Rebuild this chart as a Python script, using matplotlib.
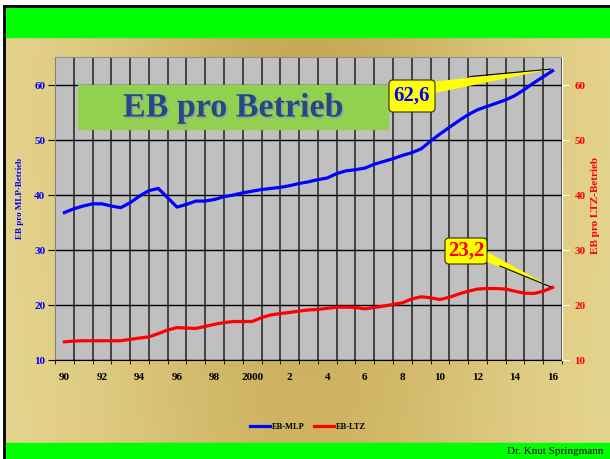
import numpy as np
import matplotlib
matplotlib.use('Agg')
import matplotlib.pyplot as plt
import matplotlib.patheffects as pe
from matplotlib.patches import Rectangle, Polygon, FancyBboxPatch

plt.rcParams['font.family'] = 'Liberation Serif'
plt.rcParams['font.weight'] = 'bold'

jahre = np.arange(1990.0, 2016.01, 0.5)
eb_mlp = [36.8, 37.5, 38.0, 38.4, 38.4, 38.0, 37.7, 38.6, 39.8, 40.8,
          41.2, 39.5, 37.8, 38.3, 38.9, 38.9, 39.2, 39.7, 40.0, 40.4,
          40.7, 41.0, 41.2, 41.4, 41.7, 42.1, 42.4, 42.8, 43.1, 43.9,
          44.4, 44.6, 44.9, 45.6, 46.1, 46.6, 47.2, 47.7, 48.4, 49.8,
          51.1, 52.3, 53.5, 54.6, 55.5, 56.1, 56.7, 57.3, 58.1, 59.2,
          60.4, 61.5, 62.6]
eb_ltz = [13.3, 13.45, 13.5, 13.5, 13.5, 13.5, 13.5, 13.75, 14.0, 14.2,
          14.8, 15.45, 15.9, 15.8, 15.75, 16.1, 16.5, 16.8, 17.0, 17.0,
          17.0, 17.7, 18.2, 18.45, 18.65, 18.9, 19.1, 19.2, 19.4, 19.6,
          19.6, 19.55, 19.3, 19.55, 19.8, 20.1, 20.4, 21.1, 21.5, 21.3,
          21.0, 21.4, 22.0, 22.5, 22.9, 23.0, 23.0, 22.9, 22.5, 22.15,
          22.1, 22.5, 23.2]
tick_jahre = np.arange(1990, 2017, 2)
tick_labels = ['90', '92', '94', '96', '98', '2000', '2', '4', '6', '8',
               '10', '12', '14', '16']
y_ticks = [10, 20, 30, 40, 50, 60]

W, H = 610, 459
def fx(px):
    return px / W
def fy(py):
    return 1 - py / H

fig = plt.figure(figsize=(W / 100, H / 100), dpi=100)

# --- Hintergrund (Folie) ---
bg = fig.add_axes([0, 0, 1, 1])
bg.set_xlim(0, W)
bg.set_ylim(H, 0)
bg.axis('off')
gx, gy = np.meshgrid(np.linspace(0, 1, 200), np.linspace(0, 1, 150))
w = np.exp(-((gx - 0.5) / 0.35) ** 2) * (0.75 + 0.25 * np.exp(-((gy - 0.2) / 0.5) ** 2))
light = np.array([0.91, 0.85, 0.58])
dark = np.array([0.78, 0.66, 0.33])
img = light[None, None, :] * (1 - w[..., None]) + dark[None, None, :] * w[..., None]
bg.imshow(img, extent=(4, W, 443, 37), aspect='auto', interpolation='bilinear')
bg.add_patch(Rectangle((4, 6), W, 31, color='#00ff00'))
bg.add_patch(Rectangle((4, 443), W, 20, color='#00ff00'))
bg.plot([4, 4], [6, H], color='black', lw=2)
bg.plot([4, W], [6, 6], color='black', lw=2)

# --- Diagramm ---
ax = fig.add_axes([fx(55), fy(360), fx(562) - fx(55), fy(57) - fy(360)])
ax.set_facecolor('#c0c0c0')
ax.set_xlim(1989.5, 2016.5)
ax.set_ylim(10, 65.1)

ax.set_xticks(np.arange(1989.5, 2016.6, 1), minor=True)
ax.set_xticks(tick_jahre)
ax.set_xticklabels(tick_labels, fontsize=8)
ax.tick_params(axis='x', which='major', length=0, pad=9)
ax.tick_params(axis='x', which='minor', length=3, direction='out', color='black')
ax.grid(True, which='minor', axis='x', color='#202020', lw=1.1)
ax.set_yticks(y_ticks)
ax.set_yticklabels([str(v) for v in y_ticks], color='blue', fontsize=8)
ax.tick_params(axis='y', length=5, direction='out', color='black', pad=2)
ax.grid(True, which='major', axis='y', color='black', lw=1.0)
ax.set_axisbelow(True)
ax.spines['left'].set_color('#808080')
ax.spines['top'].set_color('#909090')
ax.spines['bottom'].set_color('black')
ax.spines['right'].set_color('white')

l1, = ax.plot(jahre, eb_mlp, color='blue', lw=2.3, label='EB-MLP', zorder=3)
l2, = ax.plot(jahre, eb_ltz, color='red', lw=2.3, label='EB-LTZ', zorder=3)

ax2 = ax.twinx()
ax2.set_ylim(ax.get_ylim())
ax2.set_yticks(y_ticks)
ax2.set_yticklabels([str(v) for v in y_ticks], color='red', fontsize=8)
ax2.tick_params(axis='y', length=5, direction='out', color='white', pad=4)
for s in ax2.spines.values():
    s.set_visible(False)
ax2.spines['right'].set_visible(True)
ax2.spines['right'].set_color('white')

fig.text(fx(20), fy(198), 'EB pro MLP-Betrieb', rotation=90, color='blue',
         fontsize=6.5, ha='center', va='center')
fig.text(fx(596), fy(205), 'EB pro LTZ-Betrieb', rotation=90, color='red',
         fontsize=8, ha='center', va='center')

# --- Callout-Keile (in Datenkoordinaten, Spitze am letzten Wert) ---
def px2x(px):
    return 1990 + (px - 64.4) / 18.78
def py2y(py):
    return 10 + (360 - py) / 5.5

tip1 = (jahre[-1] - 0.1, eb_mlp[-1] + 0.3)
ax2.add_patch(Polygon([(px2x(430), py2y(82)), tip1, (px2x(430), py2y(94))],
                      closed=True, facecolor='yellow', edgecolor='none', zorder=4))
ax2.plot([px2x(470), tip1[0]], [py2y(76.5), tip1[1]], color='black', lw=0.8, zorder=4)

tip2 = (jahre[-1] - 0.1, eb_ltz[-1] + 0.1)
ax2.add_patch(Polygon([(px2x(482), py2y(249)), tip2, (px2x(482), py2y(260))],
                      closed=True, facecolor='yellow', edgecolor='none', zorder=4))
ax2.plot([px2x(500), tip2[0]], [py2y(266), tip2[1]], color='black', lw=0.8, zorder=4)

# --- Overlay in Pixelkoordinaten: Titel und Callout-Kästen ---
ov = fig.add_axes([0, 0, 1, 1])
ov.set_xlim(0, W)
ov.set_ylim(0, H)
ov.axis('off')
ov.add_patch(Rectangle((78, H - 129), 310, 44, color='#92d050'))
ov.text(233, H - 108, 'EB pro Betrieb', color='#234a82', fontsize=24.5,
        ha='center', va='center',
        path_effects=[pe.withSimplePatchShadow(offset=(1.2, -1.2),
                                               shadow_rgbFace='#9aa0a0', alpha=0.9)])

ov.add_patch(FancyBboxPatch((389, H - 112), 46, 32,
                            boxstyle='round,pad=0,rounding_size=4',
                            facecolor='yellow', edgecolor='#333300', lw=0.8))
ov.text(412, H - 96, '62,6', color='blue', fontsize=15, ha='center', va='center')

ov.add_patch(FancyBboxPatch((445, H - 264), 42, 26,
                            boxstyle='round,pad=0,rounding_size=4',
                            facecolor='yellow', edgecolor='#333300', lw=0.8))
ov.text(466, H - 251, '23,2', color='red', fontsize=15, ha='center', va='center')

# --- Legende und Fußzeile ---
fig.legend(handles=[l1, l2], loc='center', bbox_to_anchor=(fx(308), fy(427)),
           ncol=2, frameon=False, fontsize=6, handlelength=2.4,
           handletextpad=0.2, columnspacing=1.2)
fig.text(fx(507), fy(452), 'Dr. Knut Springmann', fontsize=8,
         fontweight='normal', ha='left', va='center')

fig.savefig('out.png', dpi=100)
